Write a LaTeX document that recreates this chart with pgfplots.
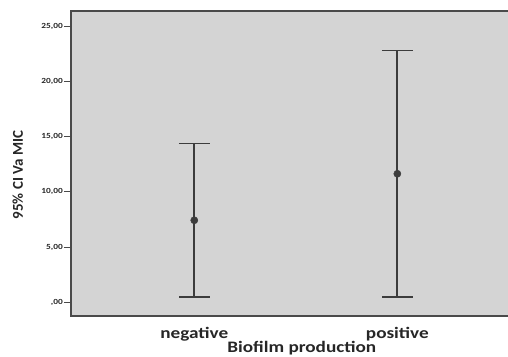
\documentclass[border=0pt]{standalone}
\usepackage{fontspec}
\setmainfont{Carlito}[FakeStretch=1.2]
\newfontfamily\ylabfont{Carlito}
\usepackage{pgfplots}
\pgfplotsset{compat=1.18}
\definecolor{bgc}{HTML}{D4D4D4}
\definecolor{barc}{HTML}{3C3C3C}
\definecolor{axc}{HTML}{4A4A4A}
\begin{document}
\begin{tikzpicture}
\begin{axis}[
  at={(71pt,40pt)}, anchor=south west,
  scale only axis, width=449pt, height=305pt,
  xmin=-0.607, xmax=1.604, ymin=-1.24, ymax=26.38,
  axis background/.style={fill=bgc},
  axis line style={draw=axc, line width=1.8pt},
  xtick={0,1}, xticklabels={negative,positive},
  ytick={0,5,10,15,20,25},
  yticklabels={{,00},{5,00},{10,00},{15,00},{20,00},{25,00}},
  tick align=outside, major tick length=7pt,
  tick style={draw=axc, line width=1pt},
  xtick style={draw=none},
  yticklabel style={font=\fontsize{7.8}{8}\selectfont\bfseries, text=black!85, inner sep=0pt, xshift=-1pt},
  xticklabel style={font=\fontsize{16}{17}\selectfont\bfseries, text=black!85, anchor=base, yshift=-15pt},
  xlabel={Biofilm production},
  xlabel style={font=\fontsize{16}{17}\selectfont\bfseries, text=black!85, at={(axis description cs:0.514,0)}, anchor=base, yshift=-36pt},
  ylabel={95\% CI Va MIC},
  ylabel style={font=\ylabfont\fontsize{15}{16}\selectfont\bfseries, text=black!85, at={(axis description cs:-0.107,0.462)}, anchor=base},
  clip=false,
]
\addplot[draw=none, mark=*, mark size=3.6pt, mark options={fill=barc, draw=barc},
  error bars/.cd, y dir=both, y explicit, error mark=|,
  error bar style={draw=barc, line width=1.9pt},
  error mark options={mark size=15.5pt, line width=1.5pt, draw=barc}]
  coordinates {
  (0,7.43) +- (0,6.97)
  (1,11.64) +- (0,11.16)
  };
\end{axis}
\pgfresetboundingbox
\path[use as bounding box] (0pt,0pt) rectangle (508pt,356pt);
\end{tikzpicture}
\end{document}
